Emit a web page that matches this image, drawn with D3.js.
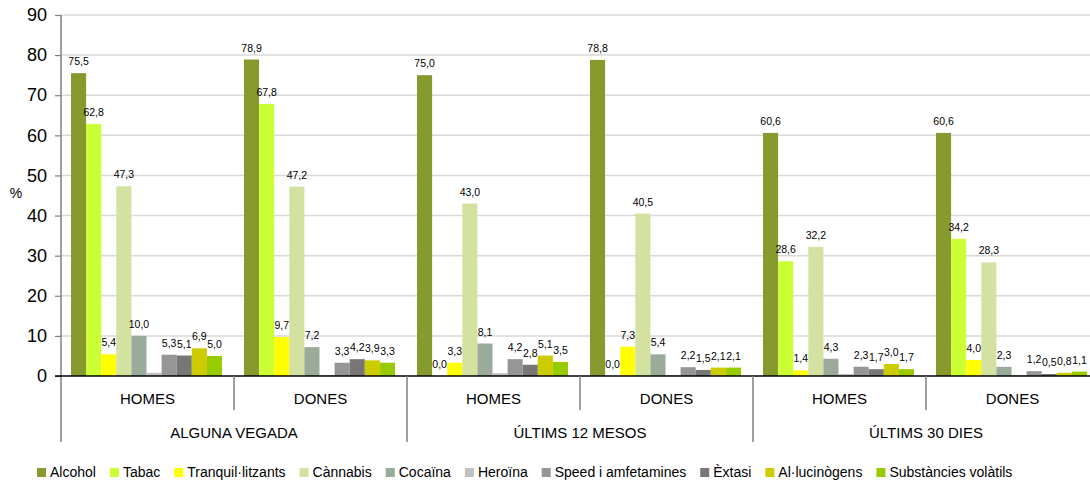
<!DOCTYPE html>
<html>
<head>
<meta charset="utf-8">
<script src="https://cdn.jsdelivr.net/npm/d3@7"></script>
<style>
  body { margin: 0; background: #fff; }
  svg { display: block; font-family: "Liberation Sans", Arial, sans-serif; }
</style>
</head>
<body>
<svg id="chart" width="1090" height="485"></svg>
<script>
// ---- data ----
const groups = ["AV-H", "AV-D", "12M-H", "12M-D", "30D-H", "30D-D"];
const groupLabels = ["HOMES", "DONES", "HOMES", "DONES", "HOMES", "DONES"];
const periods = ["ALGUNA VEGADA", "ÚLTIMS 12 MESOS", "ÚLTIMS 30 DIES"];
const series = ["Alcohol", "Tabac", "Tranquil·litzants", "Cànnabis", "Cocaïna", "Heroïna",
                "Speed i amfetamines", "Èxtasi", "Al·lucinògens", "Substàncies volàtils"];
const colors = ["#869a2e", "#ccff33", "#ffff00", "#d3e1a1", "#9aab9a", "#c0c0c0",
                "#969696", "#777777", "#cccc00", "#99cc00"];
const alcohol   = [75.5, 78.9, 75.0, 78.8, 60.6, 60.6];
const tabac     = [62.8, 67.8, 0.0, 0.0, 28.6, 34.2];
const tranquil  = [5.4, 9.7, 3.3, 7.3, 1.4, 4.0];
const cannabis  = [47.3, 47.2, 43.0, 40.5, 32.2, 28.3];
const cocaina   = [10.0, 7.2, 8.1, 5.4, 4.3, 2.3];
const heroina   = [0.8, 0.2, 0.7, 0.2, 0.5, 0.2];
const speed     = [5.3, 3.3, 4.2, 2.2, 2.3, 1.2];
const extasi    = [5.1, 4.2, 2.8, 1.5, 1.7, 0.5];
const allucin   = [6.9, 3.9, 5.1, 2.1, 3.0, 0.8];
const volatils  = [5.0, 3.3, 3.5, 2.1, 1.7, 1.1];
const values = [alcohol, tabac, tranquil, cannabis, cocaina, heroina, speed, extasi, allucin, volatils];
const showLabel = [true, true, true, true, true, false, true, true, true, true];
const yTicks = [0, 10, 20, 30, 40, 50, 60, 70, 80, 90];

// ---- layout ----
const svg = d3.select("#chart");
const x0 = 61, yBottom = 376, yTop = 15;
const groupW = 173;
const x = d3.scaleBand().domain(groups).range([x0, x0 + groupW * groups.length]).padding(0);
const xi = d3.scaleBand().domain(series).range([10, 161]).padding(0);
const y = d3.scaleLinear().domain([0, 90]).range([yBottom, yTop]);
const fmt = v => v.toFixed(1).replace(".", ",");

// gridlines
svg.append("g").selectAll("line").data(yTicks.filter(t => t > 0)).join("line")
  .attr("x1", x0).attr("x2", 1090)
  .attr("y1", d => y(d)).attr("y2", d => y(d))
  .attr("stroke", "#d9d9d9").attr("stroke-width", 1.5);

// bars
const gG = svg.append("g").selectAll("g").data(groups).join("g")
  .attr("transform", d => `translate(${x(d)},0)`);
gG.each(function(g, gi) {
  const sel = d3.select(this);
  series.forEach((s, si) => {
    const v = values[si][gi];
    sel.append("rect")
      .attr("x", xi(s)).attr("width", xi.bandwidth())
      .attr("y", y(v)).attr("height", yBottom - y(v))
      .attr("fill", colors[si]);
  });
  series.forEach((s, si) => {
    if (!showLabel[si]) return;
    const v = values[si][gi];
    sel.append("text")
      .attr("x", xi(s) + xi.bandwidth() / 2)
      .attr("y", y(v) - 8)
      .attr("text-anchor", "middle")
      .attr("font-size", 10.5)
      .attr("fill", "#000")
      .text(fmt(v));
  });
});

// y axis
const yAxis = d3.axisLeft(y).tickValues(yTicks).tickSize(6).tickPadding(8)
  .tickFormat(d3.format("d"));
const ya = svg.append("g").attr("transform", `translate(${x0},0)`).call(yAxis);
ya.select(".domain").remove();
ya.selectAll(".tick line").attr("stroke", "#808080").attr("stroke-width", 1.2);
ya.selectAll(".tick text").attr("font-size", 18).attr("fill", "#000")
  .attr("font-family", "Liberation Sans, Arial, sans-serif");
svg.append("line").attr("x1", x0).attr("x2", x0).attr("y1", yTop).attr("y2", 442)
  .attr("stroke", "#808080").attr("stroke-width", 1.5);

// % label
svg.append("text").attr("x", 16).attr("y", 198).attr("text-anchor", "middle")
  .attr("font-size", 14).text("%");

// category axis line
svg.append("line").attr("x1", x0 - 6).attr("x2", 1090).attr("y1", yBottom).attr("y2", yBottom)
  .attr("stroke", "#000").attr("stroke-width", 1.5);

// group separators
groups.forEach((g, i) => {
  if (i === 0) return;
  const long = i % 2 === 0;
  svg.append("line").attr("x1", x(g)).attr("x2", x(g))
    .attr("y1", yBottom).attr("y2", long ? 442 : 410)
    .attr("stroke", "#808080").attr("stroke-width", 1.5);
});

// group labels
svg.append("g").selectAll("text").data(groups).join("text")
  .attr("x", d => x(d) + x.bandwidth() / 2).attr("y", 404)
  .attr("text-anchor", "middle").attr("font-size", 15).attr("fill", "#000")
  .text((d, i) => groupLabels[i]);
svg.append("g").selectAll("text").data(periods).join("text")
  .attr("x", (d, i) => x(groups[i * 2]) + x.bandwidth())
  .attr("y", 438)
  .attr("text-anchor", "middle").attr("font-size", 15).attr("fill", "#000")
  .text(d => d);

// legend
const leg = svg.append("g");
let lx = 37;
series.forEach((s, si) => {
  leg.append("rect").attr("x", lx).attr("y", 468).attr("width", 9).attr("height", 9)
    .attr("fill", colors[si]);
  const t = leg.append("text").attr("x", lx + 13).attr("y", 477)
    .attr("font-size", 14).attr("fill", "#000").text(s);
  lx += 13 + t.node().getComputedTextLength() + 14;
});
</script>
</body>
</html>
